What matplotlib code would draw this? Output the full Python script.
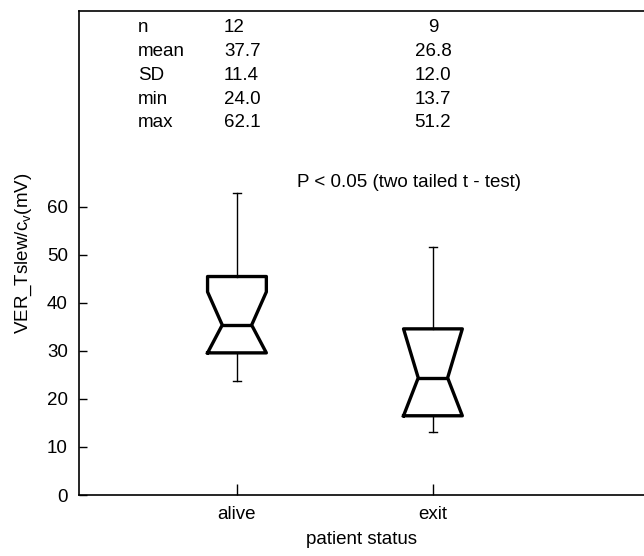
import matplotlib
matplotlib.use("Agg")
import matplotlib.pyplot as plt

plt.rcParams['font.family'] = ['Liberation Sans', 'DejaVu Sans']
FS = 13.5

categories = ["alive", "exit"]
# box statistics
whislo = [23.8, 13.2]
q1 = [29.6, 16.5]
med = [35.4, 24.4]
q3 = [45.5, 34.6]
whishi = [63.0, 51.7]
cilo = [29.6, 16.5]
cihi = [42.3, 34.6]

# summary table
stat_names = ["n", "mean", "SD", "min", "max"]
alive_stats = ["12", "37.7", "11.4", "24.0", "62.1"]
exit_stats = ["9", "26.8", "12.0", "13.7", "51.2"]
yticks = [0, 10, 20, 30, 40, 50, 60]

fig = plt.figure(figsize=(6.44, 5.56), dpi=100)
ax = fig.add_axes([79/644, 1 - 495/556, 1 - 79/644, (495 - 11)/556])

stats = []
for i, c in enumerate(categories):
    stats.append(dict(label=c, whislo=whislo[i], q1=q1[i], med=med[i], q3=q3[i],
                      whishi=whishi[i], cilo=cilo[i], cihi=cihi[i], fliers=[]))

ax.bxp(stats, positions=[1, 2], widths=0.3, shownotches=True, showfliers=False,
       capwidths=0.04,
       boxprops=dict(color='black', linewidth=2.4),
       medianprops=dict(color='black', linewidth=2.4),
       whiskerprops=dict(color='black', linewidth=1.0),
       capprops=dict(color='black', linewidth=1.0))

ax.set_xlim(0.194, 3.077)
ax.set_ylim(0, 100.8)
ax.set_yticks(yticks)
ax.set_xticks([1, 2])
ax.set_xticklabels(categories)
ax.tick_params(axis='y', direction='in', length=6, width=1, labelsize=FS, pad=8)
ax.tick_params(axis='x', direction='in', length=8, width=1, labelsize=FS, pad=8)
ax.spines['right'].set_visible(False)
for s in ['left', 'bottom', 'top']:
    ax.spines[s].set_linewidth(1.2)

ax.set_ylabel("VER_Tslew/c$_\\mathregular{v}$(mV)", fontsize=FS, labelpad=9)
ax.set_xlabel("patient status", fontsize=FS, labelpad=6)

row_y = [97.3, 92.4, 87.4, 82.4, 77.6]
for i in range(len(stat_names)):
    ax.text(0.495, row_y[i], stat_names[i], fontsize=FS, ha='left', va='center')
    ax.text(0.934, row_y[i], alive_stats[i], fontsize=FS, ha='left', va='center')
    ax.text(2.0, row_y[i], exit_stats[i], fontsize=FS, ha='center', va='center')

ax.text(1.306, 65.0, "P < 0.05 (two tailed t - test)", fontsize=FS, ha='left', va='center')

fig.savefig("out.png", dpi=100)
